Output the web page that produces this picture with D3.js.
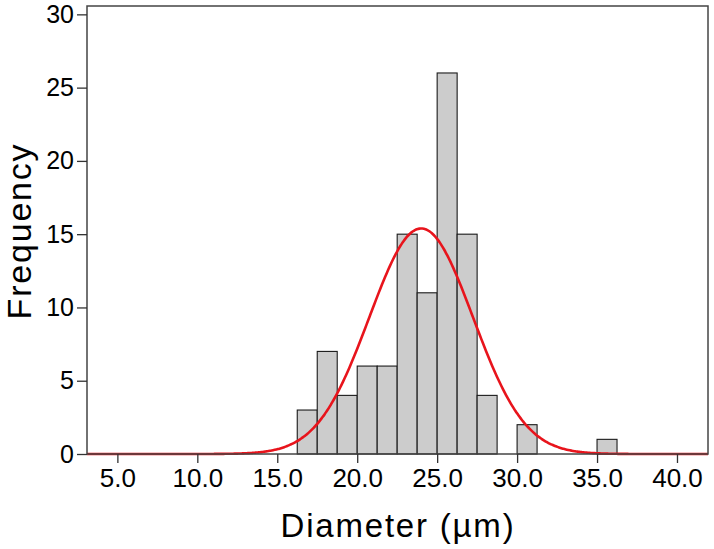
<!DOCTYPE html>
<html>
<head>
<meta charset="utf-8">
<script src="https://cdn.jsdelivr.net/npm/d3@7/dist/d3.min.js"></script>
<style>
  html, body { margin: 0; padding: 0; background: #fff; }
  svg { display: block; }
  text { font-family: "Liberation Sans", Arial, Helvetica, sans-serif; fill: #000; }
</style>
</head>
<body>
<svg id="chart" width="714" height="549"></svg>
<script>
// ---- data ----
const binStarts = [16.25, 17.5, 18.75, 20.0, 21.25, 22.5, 23.75, 25.0, 26.25, 27.5, 28.75, 30.0, 31.25, 32.5, 33.75, 35.0];
const binWidth = 1.25;
const counts    = [3, 7, 4, 6, 6, 15, 11, 26, 15, 4, 0, 2, 0, 0, 0, 1];
const xTicks = [5, 10, 15, 20, 25, 30, 35, 40];
const yTicks = [0, 5, 10, 15, 20, 25, 30];
const fitMean = 24.0;   // fitted normal curve parameters
const fitSD = 3.24;
const nTotal = d3.sum(counts);

// ---- layout ----
const svg = d3.select("#chart");
const L = 87, R = 708, T = 6, B = 454;

const x = d3.scaleLinear().domain([3.1, 41.94]).range([L, R]);
const y = d3.scaleLinear().domain([0, 30.57]).range([B, T]);

// bars
svg.append("g").selectAll("rect")
  .data(binStarts.map((s, i) => ({ s, c: counts[i] })).filter(d => d.c > 0))
  .join("rect")
  .attr("x", d => x(d.s))
  .attr("width", d => x(d.s + binWidth) - x(d.s))
  .attr("y", d => y(d.c))
  .attr("height", d => y(0) - y(d.c))
  .attr("fill", "#cccccc")
  .attr("stroke", "#1a1a1a")
  .attr("stroke-width", 1.1);

// fitted normal curve
const scaleK = nTotal * binWidth / (fitSD * Math.sqrt(2 * Math.PI));
const curveX = d3.range(0, 401).map(i => x.domain()[0] + (x.domain()[1] - x.domain()[0]) * i / 400);
const line = d3.line()
  .x(d => x(d))
  .y(d => y(scaleK * Math.exp(-((d - fitMean) ** 2) / (2 * fitSD * fitSD))))
  .curve(d3.curveBasis);
svg.append("path")
  .datum(curveX)
  .attr("d", line)
  .attr("fill", "none")
  .attr("stroke", "#e8141c")
  .attr("stroke-width", 2.6);

// frame
svg.append("rect")
  .attr("x", L).attr("y", T)
  .attr("width", R - L).attr("height", B - T)
  .attr("fill", "none")
  .attr("stroke", "#444")
  .attr("stroke-width", 1.5);

// axes
const xAxis = d3.axisBottom(x).tickValues(xTicks).tickFormat(d3.format(".1f"))
  .tickSize(9).tickPadding(6);
const gx = svg.append("g").attr("transform", `translate(0,${B})`).call(xAxis);
gx.select(".domain").remove();
gx.selectAll(".tick line").attr("stroke", "#333").attr("stroke-width", 1.3);
gx.selectAll(".tick text").style("font-size", "26px").style("font-family", "'Liberation Sans', Arial, sans-serif");

const yAxis = d3.axisLeft(y).tickValues(yTicks).tickFormat(d3.format("d"))
  .tickSize(10).tickPadding(3);
const gy = svg.append("g").attr("transform", `translate(${L},0)`).call(yAxis);
gy.select(".domain").remove();
gy.selectAll(".tick line").attr("stroke", "#333").attr("stroke-width", 1.3);
gy.selectAll(".tick text").style("font-size", "25px").style("font-family", "'Liberation Sans', Arial, sans-serif");

// axis titles
svg.append("text")
  .attr("x", 398).attr("y", 537)
  .attr("text-anchor", "middle")
  .style("font-size", "33px")
  .style("letter-spacing", "1.8px")
  .text("Diameter (µm)");

svg.append("text")
  .attr("transform", "translate(31,231) rotate(-90)")
  .attr("text-anchor", "middle")
  .style("font-size", "34px")
  .style("letter-spacing", "1.8px")
  .text("Frequency");
</script>
</body>
</html>
